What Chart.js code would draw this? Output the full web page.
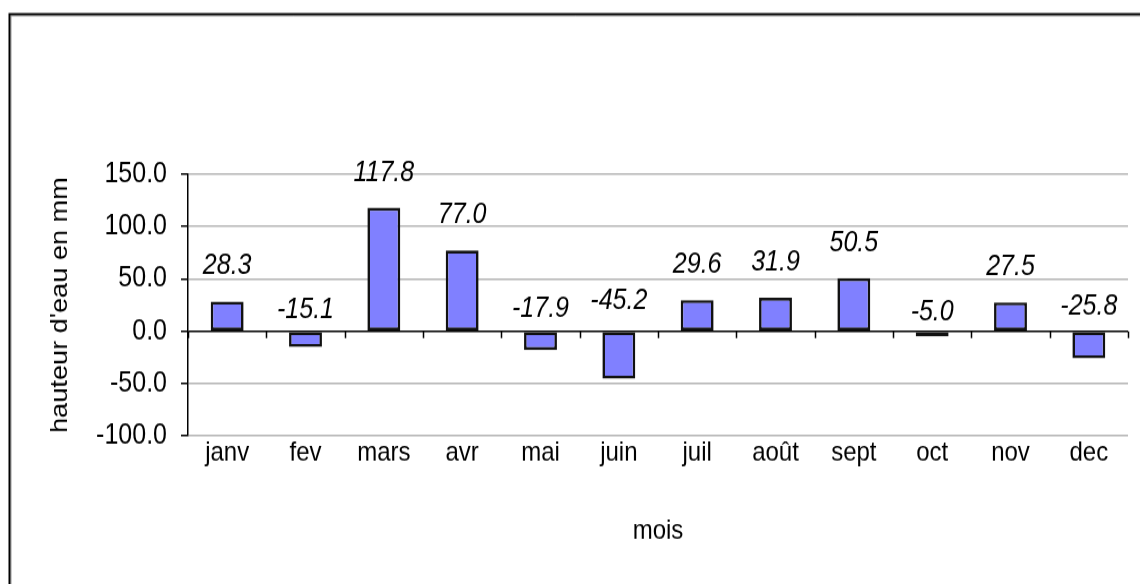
<!DOCTYPE html>
<html>
<head>
<meta charset="utf-8">
<script src="https://cdn.jsdelivr.net/npm/chart.js@4.4.1/dist/chart.umd.min.js"></script>
<style>
  html, body { margin: 0; padding: 0; background: #fff; }
  canvas { display: block; }
</style>
</head>
<body>
<!-- drawn at 516 px high, shown at 584 px: the original picture is stretched vertically -->
<canvas id="chart" width="1140" height="516" style="width:1140px;height:584px"></canvas>
<script>
const months = ["janv", "fev", "mars", "avr", "mai", "juin", "juil", "août", "sept", "oct", "nov", "dec"];
const heights = [28.3, -15.1, 117.8, 77.0, -17.9, -45.2, 29.6, 31.9, 50.5, -5.0, 27.5, -25.8];
const yTicks = [-100, -50, 0, 50, 100, 150];

const fontFamily = "'Liberation Sans', Arial, sans-serif";
const S = 584 / 516;

// frame around the chart, value labels and small category ticks on the zero line
const extras = {
  id: 'extras',
  afterDraw(chart) {
    const ctx = chart.ctx;
    const x = chart.scales.x, y = chart.scales.y;
    const zero = y.getPixelForValue(0);

    ctx.save();
    ctx.strokeStyle = '#000';
    ctx.lineWidth = 1.5;
    ctx.beginPath();
    for (let i = 0; i <= months.length; i++) {
      const px = Math.round(x.getPixelForValue(i - 0.5)) + 0.5;
      ctx.moveTo(px, zero);
      ctx.lineTo(px, zero + 6);
    }
    ctx.stroke();

    // outer frame (top and left only, the rest is cut off)
    ctx.strokeStyle = '#999';
    ctx.lineWidth = 1;
    ctx.beginPath();
    ctx.moveTo(11, 516); ctx.lineTo(11, 14); ctx.lineTo(1140, 14);
    ctx.stroke();
    ctx.strokeStyle = '#000';
    ctx.lineWidth = 2;
    ctx.beginPath();
    ctx.moveTo(9.5, 516); ctx.lineTo(9.5, 12.4); ctx.lineTo(1140, 12.4);
    ctx.stroke();

    ctx.fillStyle = '#000';
    ctx.font = 'italic 25px ' + fontFamily;
    ctx.textAlign = 'center';
    ctx.textBaseline = 'middle';
    const meta = chart.getDatasetMeta(0);
    meta.data.forEach((bar, i) => {
      const v = heights[i];
      let ly;
      if (v >= 0) ly = bar.y - 35 / S;
      else ly = zero - (17 + 0.28 * Math.abs(v)) / S;
      ctx.fillText(v.toFixed(1), bar.x, ly);
    });
    ctx.restore();
  }
};

new Chart(document.getElementById('chart'), {
  type: 'bar',
  data: {
    labels: months,
    datasets: [{
      data: heights,
      backgroundColor: '#8080ff',
      borderColor: '#111',
      borderWidth: 2.6,
      borderSkipped: false,
      categoryPercentage: 1,
      barPercentage: 0.42
    }]
  },
  options: {
    responsive: false,
    animation: false,
    devicePixelRatio: 1,
    layout: { padding: { left: 0, top: 174 / S, right: 12, bottom: 0 } },
    plugins: {
      legend: { display: false },
      tooltip: { enabled: false }
    },
    scales: {
      x: {
        grid: { display: false, drawTicks: false },
        border: { display: false },
        ticks: { color: '#000', font: { family: fontFamily, size: 24 }, padding: 1, maxRotation: 0 },
        title: {
          display: true,
          text: 'mois',
          color: '#000',
          font: { family: fontFamily, size: 24 },
          padding: { top: 0, bottom: 32 }
        },
        afterFit(scale) { scale.height = 516 - 436 / S; }
      },
      y: {
        min: -100,
        max: 150,
        afterBuildTicks(scale) { scale.ticks = yTicks.map(v => ({ value: v })); },
        grid: {
          color: ctx => (ctx.tick && ctx.tick.value === 0 ? '#000' : '#b4b4b4'),
          lineWidth: 1.5,
          tickColor: '#000',
          tickLength: 7
        },
        border: { display: true, color: '#000', width: 1.5 },
        ticks: {
          color: '#000',
          font: { family: fontFamily, size: 25 },
          padding: 14,
          callback: v => Number(v).toFixed(1)
        },
        title: {
          display: true,
          text: "hauteur d'eau en mm",
          color: '#000',
          font: { family: fontFamily, size: 24 },
          padding: { top: 46, bottom: 0 }
        },
        afterFit(scale) { scale.width = 188; }
      }
    }
  },
  plugins: [extras]
});
</script>
</body>
</html>
